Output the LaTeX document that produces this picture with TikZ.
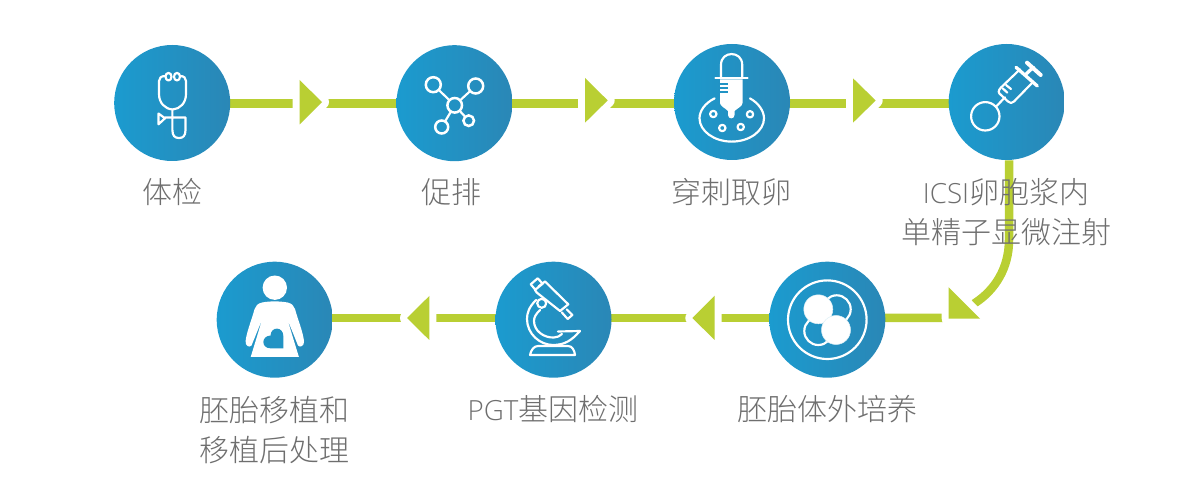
\documentclass[tikz,border=0pt]{standalone}
\usepackage{fontspec}
\usetikzlibrary{backgrounds}
\setmainfont[Scale=0.925]{Open Sans Light}
\newfontfamily\cjk{Noto Sans CJK SC Light}
\definecolor{lime}{HTML}{B9CF33}
\definecolor{txt}{HTML}{6E6E6E}
\definecolor{bluel}{HTML}{1B9BCF}
\definecolor{bluer}{HTML}{2A87B6}
\definecolor{bluem}{HTML}{2193C4}
\newcommand{\ct}[1]{{\cjk #1}}
\newcommand{\halotri}[3]{%
  \fill[white,draw=white,line width=8.4pt,line join=round] (#1) -- (#2) -- (#3) -- cycle;
  \fill[lime] (#1) -- (#2) -- (#3) -- cycle;}
\tikzset{
  stepdisc/.style={circle,minimum size=69.6pt,inner sep=0pt,left color=bluel,right color=bluer,shading angle=90},
  conn/.style={draw=lime,line width=5.1pt},
  lab/.style={text=txt,font=\fontsize{18pt}{25pt}\selectfont,align=center,inner sep=0pt},
  ic/.style={draw=white,line width=1.3pt,line cap=round,line join=round},
  ring/.style={circle,draw=white,line width=1.5pt,inner sep=0pt},
}
\begin{document}
\begin{tikzpicture}[x=0.6pt,y=-0.6pt]
\useasboundingbox (0,0) rectangle (1200,500);
\coordinate (r1) at (0,103.5);
\coordinate (r2) at (0,318);
\node[stepdisc] (c1) at (172.2,103) {};
\node[stepdisc] (c2) at (454.5,103.2) {};
\node[stepdisc] (c3) at (732,102) {};
\node[stepdisc] (c4) at (1006.7,102) {};
\node[stepdisc] (c5) at (827.3,319.7) {};
\node[stepdisc] (c6) at (553.5,319.7) {};
\node[stepdisc] (c7) at (274.7,319.7) {};
\begin{scope}[on background layer]
\draw[conn] (c1 |- r1) -- (c2 |- r1);
\draw[conn] (c2 |- r1) -- (c3 |- r1);
\draw[conn] (c3 |- r1) -- (c4 |- r1);
\coordinate (b1) at (1009,240);
\coordinate (b2) at (941,318);
\coordinate (b3) at (975,303);
\draw[conn] (c4.south -| b1) -- (b1) .. controls (1009,268) and (995,290) .. (b3)
  .. controls (962,313) and (950,318) .. (b2) -- (c5 |- r2);
\draw[conn] (c5 |- r2) -- (c6 |- r2);
\draw[conn] (c6 |- r2) -- (c7 |- r2);
\end{scope}
\halotri{299.5,80}{299.5,124.5}{322,102}
\halotri{585,78}{585,122.7}{607.7,100.4}
\halotri{853,78.3}{853,122.7}{875.7,100.5}
\halotri{948.7,287.3}{948.7,318.7}{980,318.7}
\halotri{714.7,295.7}{714.7,340}{692.3,318}
\halotri{429.3,296}{429.3,340}{407,318}
% labels
\node[lab] (t1) at (172,192) {\ct{体检}};
\node[lab] (t2) at (451,192) {\ct{促排}};
\node[lab] (t3) at (731,192) {\ct{穿刺取卵}};
\node[lab] (t4) at (1006,212) {ICSI\ct{卵胞浆内}\\[-0.5pt]\ct{单精子显微注射}};
\node[lab] (t5) at (827,409) {\ct{胚胎体外培养}};
\node[lab] (t6) at (553,409) {PGT\ct{基因检测}};
\node[lab] (t7) at (274.5,430) {\ct{胚胎移植和}\\[-0.5pt]\ct{移植后处理}};
% icon 1: stethoscope
\draw[ic] (165.5,76) .. controls (161,76) and (159,78) .. (159,81) -- (159,94)
  .. controls (159,103) and (165,109) .. (172.7,109.5)
  .. controls (180,109) and (186,103) .. (186,94) -- (186,81)
  .. controls (186,78) and (184,76) .. (180,76);
\draw[ic] (168.5,76.7) ellipse[x radius=3,y radius=3.8];
\draw[ic] (177,76.7) ellipse[x radius=3,y radius=3.8];
\draw[ic] (172.4,109.5) -- (172.4,130) .. controls (172.4,136) and (175,138) .. (179,138)
  .. controls (183,138) and (185.5,136) .. (185.5,130) -- (185.5,117.5) -- (165,117.5);
\draw[ic] (158.5,113.5) -- (165,118.3) -- (158.5,124.3) -- cycle;
% icon 2: network
\node[ring,minimum size=14.6*0.6pt] (n0) at (454.7,105.3) {};
\node[ring,minimum size=15*0.6pt] (n1) at (433.3,84.7) {};
\node[ring,minimum size=15*0.6pt] (n2) at (475.7,86) {};
\node[ring,minimum size=13*0.6pt] (n3) at (441.7,127) {};
\node[ring,minimum size=10.6*0.6pt] (n4) at (468.7,120.7) {};
\foreach \a in {n1,n2,n3,n4} \draw[ic] (n0) -- (\a);
% icon 3: pipette
\draw[ic] (721,76.7) -- (721,64.7) .. controls (721,50.5) and (742.2,50.5) .. (742.2,64.7) -- (742.2,76.7);
\draw[ic] (715.5,77.7) -- (747.5,77.7);
\fill[white] (720,79.5) -- (742.5,79.5) -- (742.5,103) .. controls (742.5,106) and (738,108) .. (734.5,111)
  -- (734.5,115) .. controls (734.5,119.5) and (728,119.5) .. (728,115) -- (728,111)
  .. controls (725,108) and (720,106) .. (720,103) -- cycle;
\draw[bluem,line width=0.8pt] (719.5,84) -- (728,84) (719.5,88) -- (728,88) (719.5,92) -- (728,92);
\draw[ic] (714.6,98.4) .. controls (705,103) and (699.5,111) .. (699.5,118.3)
  .. controls (699.5,131) and (714,141.6) .. (731.7,141.6)
  .. controls (749.5,141.6) and (764,131) .. (764,118.3)
  .. controls (764,111) and (758.5,103) .. (750,98.4);
\draw[ic] (713.3,114) circle[radius=3.2];
\draw[ic] (750,114.3) circle[radius=3.2];
\draw[ic] (722.3,128) circle[radius=3.2];
\draw[ic] (740.7,127) circle[radius=3.2];
% icon 4: syringe
\draw[ic] (985.3,116.3) circle[radius=14.2];
\draw[ic] (996,106.7) -- (1005,97.3);
\draw[ic] (1020,69.3) -- (1001,87.5) .. controls (998,90.5) and (998,93) .. (1001,95)
  -- (1008,101.5) .. controls (1010,103.5) and (1012,103.5) .. (1014,101.5) -- (1033.3,81.7);
\draw[ic,line width=2pt] (1016,67.3) -- (1037.3,86);
\draw[ic,line width=2pt] (1025,75) -- (1033.3,67.3);
\draw[ic,line width=2.4pt] (1027,62.7) -- (1040.7,75);
\draw[ic] (1002.7,88.3) -- (1007.3,92.7) (1006,85) -- (1011,89);
% icon 5: cells
\draw[ic] (827.3,319.7) circle[radius=39.3];
\draw[ic] (836.7,309.3) circle[radius=14];
\draw[ic] (818.3,331) circle[radius=14];
\fill[white,draw=white!85!bluem,line width=0.3pt] (818.3,309.3) circle[radius=14.5];
\fill[white,draw=white!85!bluem,line width=0.3pt] (836,330) circle[radius=14.5];
% icon 6: microscope
\draw[ic] (530.7,284.3) -- (537.7,278.3) -- (542.7,283.7) -- (535.3,289.7) -- cycle;
\draw[ic] (538.5,286.5) -- (545,281.5) -- (568.3,304.3) -- (560,311) -- (536.7,292.5) -- (535,290);
\draw[ic] (566.7,309.3) -- (572.3,315) -- (567.7,319) -- (561.7,312.3);
\draw[ic] (541.7,303.3) circle[radius=4.5];
\draw[ic] (536,300) .. controls (529,307) and (527,313) .. (527,319)
  .. controls (527,334) and (540,345) .. (553,345) .. controls (565,345) and (572,340) .. (580,331) -- (558,331.5);
\draw[ic] (540,310) .. controls (536,314) and (534,317) .. (534,321)
  .. controls (534,331) and (544,338) .. (554,337.5) .. controls (557,337.5) and (560,336) .. (562,334);
\draw[ic] (530,355) .. controls (531,350) and (534,346) .. (538,346) -- (568,346)
  .. controls (572,346) and (574.5,350) .. (575,355) -- cycle;
% icon 7: woman
\fill[white] (274.8,287.7) circle[radius=12.2];
\fill[white] (262,302.5) .. controls (270,301) and (279,301) .. (287.6,302.5)
  .. controls (292,303.5) and (294,306) .. (295,309)
  .. controls (298,320) and (303,332) .. (304,341)
  .. controls (304.5,346) and (300,348) .. (298,345.5)
  -- (287.3,319) -- (298.9,357) -- (250.7,357) -- (262.3,319) -- (251.5,345.5)
  .. controls (249.5,348) and (245,346) .. (245.6,341)
  .. controls (246.6,332) and (251.6,320) .. (254.6,309)
  .. controls (255.6,306) and (257.6,303.5) .. (262,302.5) -- cycle;
\fill[bluem] (283.3,348.3) -- (283.3,336) .. controls (283.3,326.5) and (271,326) .. (270.5,335.5)
  .. controls (261,336) and (261,348.3) .. (270.5,348.3) -- cycle;
\end{tikzpicture}
\end{document}
